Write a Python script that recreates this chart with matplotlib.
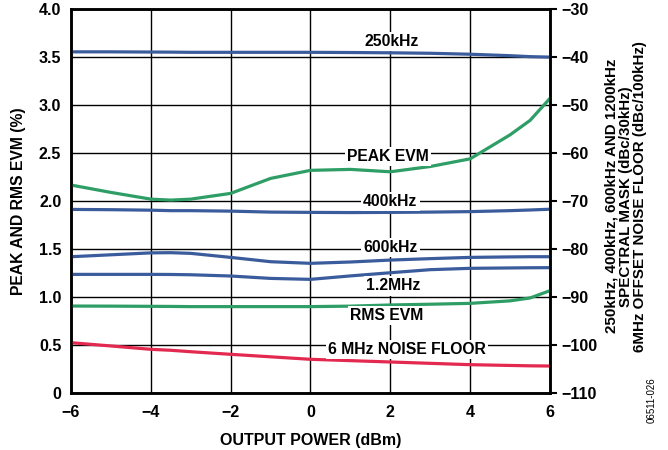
import matplotlib
matplotlib.use('Agg')
import matplotlib.pyplot as plt

plt.rcParams['font.family'] = ['Liberation Sans', 'DejaVu Sans']
plt.rcParams['font.weight'] = 'bold'

# output power (dBm) and curve values (left axis units)
x_pts = [-6, -5, -4, -3.5, -3, -2, -1, 0, 1, 2, 3, 4, 5, 5.5, 6]
khz250 = [3.555, 3.555, 3.553, 3.552, 3.55, 3.55, 3.55, 3.55, 3.548, 3.545, 3.54, 3.53, 3.515, 3.505, 3.50]
peak_evm = [2.167, 2.09, 2.02, 2.01, 2.02, 2.08, 2.236, 2.32, 2.33, 2.305, 2.36, 2.44, 2.69, 2.84, 3.07]
khz400 = [1.913, 1.91, 1.905, 1.90, 1.90, 1.895, 1.885, 1.882, 1.88, 1.882, 1.885, 1.89, 1.90, 1.907, 1.915]
khz600 = [1.42, 1.44, 1.46, 1.462, 1.455, 1.413, 1.368, 1.351, 1.365, 1.385, 1.40, 1.413, 1.418, 1.42, 1.42]
mhz12 = [1.236, 1.236, 1.236, 1.235, 1.232, 1.219, 1.194, 1.184, 1.22, 1.253, 1.285, 1.299, 1.303, 1.305, 1.306]
rms_evm = [0.906, 0.905, 0.903, 0.902, 0.90, 0.90, 0.90, 0.90, 0.905, 0.917, 0.925, 0.934, 0.96, 0.99, 1.066]
noise_floor = [0.524, 0.49, 0.455, 0.445, 0.43, 0.403, 0.377, 0.351, 0.337, 0.323, 0.309, 0.295, 0.287, 0.283, 0.281]

blue = '#3b5c9c'
green = '#2e9e66'
red = '#e3294f'

fig = plt.figure(figsize=(6.68, 4.5), dpi=100)
ax = fig.add_axes([0.1063, 0.1267, 0.717, 0.853])

ax.plot(x_pts, khz250, color=blue, lw=2.3, zorder=3)
ax.plot(x_pts, peak_evm, color=green, lw=2.3, zorder=3)
ax.plot(x_pts, khz400, color=blue, lw=2.3, zorder=3)
ax.plot(x_pts, khz600, color=blue, lw=2.3, zorder=3)
ax.plot(x_pts, mhz12, color=blue, lw=2.3, zorder=3)
ax.plot(x_pts, rms_evm, color=green, lw=2.3, zorder=3)
ax.plot(x_pts, noise_floor, color=red, lw=2.3, zorder=3)

ax.set_xlim(-6, 6)
ax.set_ylim(0, 4.0)
ax.set_xticks([-6, -4, -2, 0, 2, 4, 6])
ax.set_yticks([0, 0.5, 1.0, 1.5, 2.0, 2.5, 3.0, 3.5, 4.0])
ax.set_yticklabels(['0', '0.5', '1.0', '1.5', '2.0', '2.5', '3.0', '3.5', '4.0'])
ax.grid(True, color='black', lw=1.0, zorder=1)
ax.set_axisbelow(True)
ax.tick_params(axis='x', length=0, labelsize=11.5, pad=9)
ax.tick_params(axis='y', length=0, labelsize=11.5, pad=7)
for s in ax.spines.values():
    s.set_linewidth(1.8)

ax.set_xlabel('OUTPUT POWER (dBm)', fontsize=11.5, fontweight='bold', labelpad=9)
ax.set_ylabel('PEAK AND RMS EVM (%)', fontsize=11.3, fontweight='bold', labelpad=9)

# curve labels with white boxes
box = dict(facecolor='white', edgecolor='none', pad=1.5)
labels = [('250kHz', 2.04, 3.66), ('PEAK EVM', 1.94, 2.46), ('400kHz', 2.0, 2.0),
          ('600kHz', 2.0, 1.52), ('1.2MHz', 2.07, 1.115), ('RMS EVM', 1.92, 0.805),
          ('6 MHz NOISE FLOOR', 2.42, 0.455)]
for txt, lx, ly in labels:
    ax.text(lx, ly, txt, ha='center', va='center', fontsize=11.3, fontweight='bold',
            bbox=box, zorder=4)

ax2 = ax.twinx()
ax2.set_ylim(-110, -30)
ax2.set_yticks(range(-110, -29, 10))
ax2.tick_params(axis='y', direction='out', length=5, width=1.5, labelsize=11.5, pad=3)
for s in ax2.spines.values():
    s.set_linewidth(1.8)

fig.text(0.937, 0.564, '250kHz, 400kHz, 600kHz AND 1200kHz\nSPECTRAL MASK (dBc/30kHz)\n6MHz OFFSET NOISE FLOOR (dBc/100kHz)',
         rotation=90, ha='center', va='center', fontsize=10.9, fontweight='bold',
         linespacing=1.0)
fig.text(0.976, 0.06, '06511-026', rotation=90, ha='center', va='bottom', fontsize=7,
         fontweight='normal')

fig.savefig('out.png', dpi=100)
